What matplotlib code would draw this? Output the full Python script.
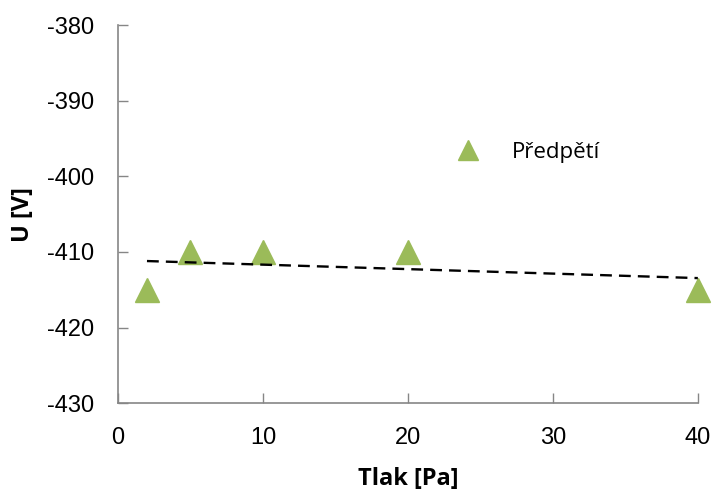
import numpy as np
import matplotlib.pyplot as plt

# data
tlak = [2, 5, 10, 20, 40]            # Pa
predpeti = [-415, -410, -410, -410, -415]  # V
x_ticks = [0, 10, 20, 30, 40]
y_ticks = [-430, -420, -410, -400, -390, -380]

plt.rcParams['font.family'] = ['Liberation Sans', 'DejaVu Sans']
plt.rcParams['axes.unicode_minus'] = False

fig = plt.figure(figsize=(7.15, 4.94), dpi=100)
ax = fig.add_axes([0.165, 0.184, 0.811, 0.765])

ax.plot(tlak, predpeti, linestyle='none', marker='^', markersize=17,
        color='#9BBB59', label='Předpětí', clip_on=False, zorder=3)

# linear trend line
k, q = np.polyfit(tlak, predpeti, 1)
xt = np.array([min(tlak), max(tlak)])
ax.plot(xt, k * xt + q, color='black', linestyle=(0, (5, 3)), linewidth=1.7, zorder=4)

ax.set_xlim(0, 40)
ax.set_ylim(-430, -380)
ax.set_xticks(x_ticks)
ax.set_yticks(y_ticks)

for s in ['top', 'right']:
    ax.spines[s].set_visible(False)
for s in ['left', 'bottom']:
    ax.spines[s].set_color('#868686')
    ax.spines[s].set_linewidth(1.2)
ax.tick_params(direction='in', length=7, width=1, color='#868686',
               labelsize=17, pad=17)

ax.set_xlabel('Tlak [Pa]', fontsize=17, fontweight='bold', family='Open Sans', labelpad=13)
ax.set_ylabel('U [V]', fontsize=17, fontweight='bold', family='Open Sans', labelpad=9)

leg = ax.legend(loc='center left', bbox_to_anchor=(0.53, 0.664), frameon=False,
                handletextpad=1.0, markerscale=0.85,
                prop={'family': 'Open Sans', 'size': 16})

fig.savefig('out.png', dpi=100)
